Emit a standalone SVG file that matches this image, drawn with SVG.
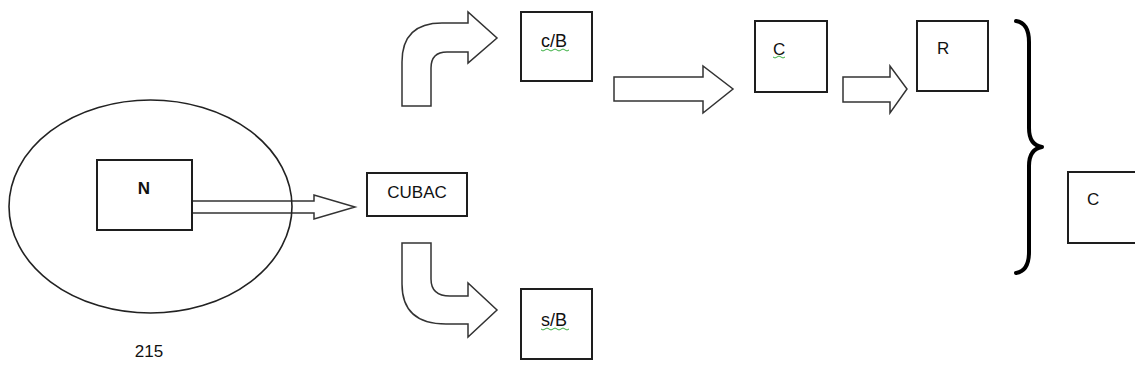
<svg xmlns="http://www.w3.org/2000/svg" width="1135" height="379" viewBox="0 0 1135 379">
  <style>
    .box { fill: #fff; stroke: #1e1e1e; stroke-width: 2; }
    .arrow { fill: #fff; stroke: #333; stroke-width: 1.5; stroke-linejoin: miter; }
    .lbl { font-family: "Liberation Sans", Arial, sans-serif; font-size: 17px; fill: #111; }
    .wide { font-size: 18px; }
    .squiggle { fill: none; stroke: #3cb043; stroke-width: 1; }
    .brace { fill: none; stroke: #000; stroke-width: 4; stroke-linecap: round; stroke-linejoin: round; }
  </style>
  <rect width="1135" height="379" fill="#fff"/>

  <!-- block arrows -->
  <g id="connectors">
    <!-- N -> CUBAC -->
    <path class="arrow" d="M192,201 L314,201 L314,195 L355,207 L314,219 L314,213 L192,213"/>
    <!-- CUBAC -> c/B (bent up) -->
    <path class="arrow" d="M402,106 L402,62 Q402,23 442,23 L468,23 L468,12 L497,38 L468,63 L468,52 L447,52 Q431,52 431,68 L431,106 Z"/>
    <!-- CUBAC -> s/B (bent down) -->
    <path class="arrow" d="M402,243 L431,243 L431,279 Q431,296 450,296 L468,296 L468,283 L497,310 L468,337 L468,324 L446,324 Q402,324 402,284 Z"/>
    <!-- c/B -> C -->
    <path class="arrow" d="M614,77 L703,77 L703,66 L733,89 L703,113 L703,101 L614,101 Z"/>
    <!-- C -> R -->
    <path class="arrow" d="M843,77 L890,77 L890,66 L907,89 L890,113 L890,102 L843,102 Z"/>
    <!-- brace grouping toward C -->
    <path class="brace" d="M1016,21 Q1029,23 1029,42 L1029,128 Q1029,145 1042,147 Q1029,149 1029,166 L1029,252 Q1029,271 1016,273"/>
  </g>

  <g id="node-N">
    <ellipse cx="150.5" cy="206.5" rx="141.5" ry="106.5" fill="none" stroke="#222" stroke-width="1.6"/>
    <rect class="box" x="97" y="160" width="95" height="70"/>
    <text class="lbl" x="144" y="194" text-anchor="middle" font-weight="bold" font-size="18">N</text>
  </g>

  <g id="node-CUBAC">
    <rect class="box" x="367" y="173" width="100" height="43"/>
    <text class="lbl" x="417" y="198" text-anchor="middle">CUBAC</text>
  </g>

  <g id="node-cB">
    <rect class="box" x="521" y="12" width="71" height="69"/>
    <text class="lbl wide" x="541" y="47">c/B</text>
    <path class="squiggle" d="M541,50 q2,2 4,0 t4,0 t4,0 t4,0 t4,0 t4,0 t4,0"/>
  </g>

  <g id="node-sB">
    <rect class="box" x="521" y="289" width="71" height="70"/>
    <text class="lbl wide" x="541" y="326">s/B</text>
    <path class="squiggle" d="M541,329 q2,2 4,0 t4,0 t4,0 t4,0 t4,0 t4,0 t4,0"/>
  </g>

  <g id="node-C1">
    <rect class="box" x="755" y="21" width="72" height="71"/>
    <text class="lbl" x="773" y="55">C</text>
    <path class="squiggle" d="M773,57 q2,2 4,0 t4,0 t4,0"/>
  </g>

  <g id="node-R">
    <rect class="box" x="917" y="21" width="71" height="70"/>
    <text class="lbl" x="937" y="54">R</text>
  </g>

  <g id="node-C2">
    <rect class="box" x="1068" y="172" width="80" height="71"/>
    <text class="lbl" x="1087" y="205">C</text>
  </g>

  <g id="caption">
    <text class="lbl" x="149" y="357" text-anchor="middle">215</text>
  </g>
</svg>
